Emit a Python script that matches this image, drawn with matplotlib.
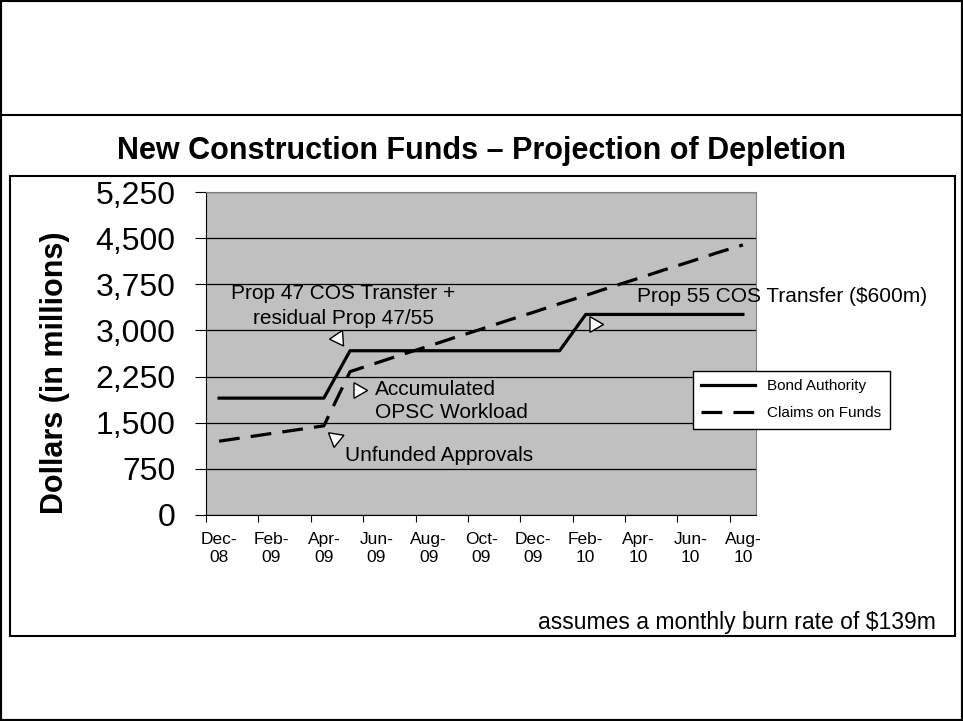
import numpy as np
import matplotlib.pyplot as plt
from matplotlib.patches import Rectangle
from matplotlib.lines import Line2D

plt.rcParams['font.family'] = ['Liberation Sans', 'DejaVu Sans']

# data (one point per month, Dec-08 .. Aug-10)
monthIndex = np.arange(21)
bondAuthority = [1900, 1900, 1900, 1900, 1900,
                 2670, 2670, 2670, 2670, 2670, 2670, 2670, 2670, 2670,
                 3260, 3260, 3260, 3260, 3260, 3260, 3260]
claimsOnFunds = [1200, 1262, 1325, 1387, 1450,
                 2330, 2470, 2610, 2745, 2885, 3020, 3160, 3295, 3435,
                 3570, 3710, 3845, 3985, 4120, 4260, 4390]
tickLabels = ['Dec-\n08', 'Feb-\n09', 'Apr-\n09', 'Jun-\n09', 'Aug-\n09', 'Oct-\n09',
              'Dec-\n09', 'Feb-\n10', 'Apr-\n10', 'Jun-\n10', 'Aug-\n10']
yTicks = [0, 750, 1500, 2250, 3000, 3750, 4500, 5250]

W, H = 963, 721
fig = plt.figure(figsize=(W/100, H/100), dpi=100)

def fx(px):
    return px / W

def fy(py):
    return 1 - py / H

# frames: outer border, title box line, chart box
fig.add_artist(Rectangle((0, 0), 1, 1, transform=fig.transFigure, fill=False, ec='black', lw=3))
fig.add_artist(Line2D([0, 1], [fy(115), fy(115)], transform=fig.transFigure, color='black', lw=1.5))
fig.add_artist(Rectangle((fx(10), fy(636)), fx(955) - fx(10), fy(176) - fy(636),
                         transform=fig.transFigure, fill=False, ec='black', lw=1.5))

fig.text(0.5, fy(151), 'New Construction Funds \u2013 Projection of Depletion',
         ha='center', va='center', fontsize=22, fontweight='bold')

ax = fig.add_axes([fx(206), fy(515), fx(756) - fx(206), fy(192) - fy(515)])
ax.set_facecolor('#C0C0C0')

ax.plot(monthIndex, bondAuthority, color='black', lw=2.3, label='Bond Authority')
ax.plot(monthIndex, claimsOnFunds, color='black', lw=2.3, linestyle=(0, (6.5, 3.5)),
        label='Claims on Funds')

ax.set_xlim(-0.5, 20.5)
ax.set_ylim(0, 5250)
ax.set_yticks(yTicks)
ax.set_yticklabels([f'{v:,}' for v in yTicks], fontsize=23)
ax.yaxis.grid(True, color='black', lw=0.9)
ax.set_axisbelow(True)

ax.set_xticks(np.arange(-0.5, 20, 2))
ax.set_xticklabels([])
ax.set_xticks(np.arange(0, 21, 2), minor=True)
ax.set_xticklabels(tickLabels, minor=True, fontsize=12.5, linespacing=1.3)
ax.tick_params(axis='x', which='major', length=5, direction='out')
ax.tick_params(axis='x', which='minor', length=0, pad=12)
ax.tick_params(axis='y', length=8, pad=14)

for s in ['top', 'right']:
    ax.spines[s].set_color('#808080')
for s in ['left', 'bottom']:
    ax.spines[s].set_color('black')

# callout triangles
ax.plot(4.54, 2877, marker=(3, 0, -26), ms=13, mfc='white', mec='black', mew=1, clip_on=False)
ax.plot(5.30, 2032, marker=(3, 0, -90), ms=13, mfc='white', mec='black', mew=1, clip_on=False)
ax.plot(4.43, 1251, marker=(3, 0, 171), ms=13, mfc='white', mec='black', mew=1, clip_on=False)
ax.plot(14.31, 3104, marker=(3, 0, -90), ms=13, mfc='white', mec='black', mew=1, clip_on=False)

ax.text(4.73, 3396, 'Prop 47 COS Transfer +\nresidual Prop 47/55', ha='center', va='center',
        fontsize=15, linespacing=1.35)
ax.text(5.95, 1853, 'Accumulated\nOPSC Workload', ha='left', va='center', fontsize=15,
        linespacing=1.3)
ax.text(4.81, 975, 'Unfunded Approvals', ha='left', va='center', fontsize=15)
ax.text(15.96, 3559, 'Prop 55 COS Transfer ($600m)', ha='left', va='center', fontsize=15)

fig.text(fx(55), fy(373), 'Dollars (in millions)', rotation=90, ha='center', va='center',
         fontsize=22, fontweight='bold')

fig.text(fx(936), fy(622), 'assumes a monthly burn rate of $139m', ha='right', va='center',
         fontsize=16.5)

leg = fig.legend(loc='upper left', bbox_to_anchor=(fx(693), fy(371)), borderaxespad=0,
                 fontsize=11, handlelength=3.5, fancybox=False, framealpha=1,
                 edgecolor='black', borderpad=0.55, labelspacing=0.85)
leg.get_frame().set_linewidth(1)

fig.savefig('out.png', dpi=100)
